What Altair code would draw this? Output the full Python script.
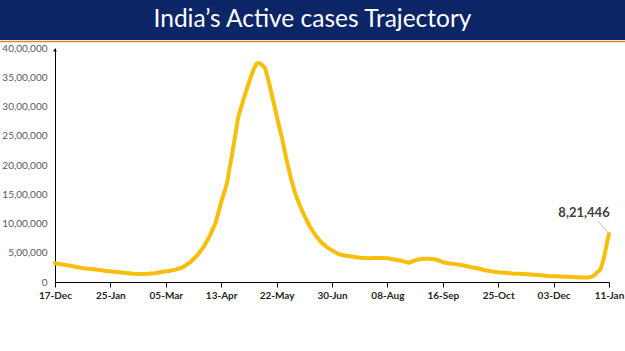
import altair as alt
import pandas as pd

# ---- data ----
dates = [
    "2020-12-17", "2020-12-22", "2020-12-27", "2021-01-01", "2021-01-06", "2021-01-11",
    "2021-01-16", "2021-01-21", "2021-01-26", "2021-01-31", "2021-02-05", "2021-02-10",
    "2021-02-15", "2021-02-20", "2021-02-25", "2021-03-02", "2021-03-07", "2021-03-12",
    "2021-03-17", "2021-03-22", "2021-03-27", "2021-04-01", "2021-04-05", "2021-04-09",
    "2021-04-13", "2021-04-17", "2021-04-21", "2021-04-25", "2021-04-29", "2021-05-03",
    "2021-05-06", "2021-05-08", "2021-05-10", "2021-05-12", "2021-05-14", "2021-05-17",
    "2021-05-20", "2021-05-23", "2021-05-26", "2021-05-29", "2021-06-01", "2021-06-04",
    "2021-06-07", "2021-06-10", "2021-06-14", "2021-06-18", "2021-06-22", "2021-06-26",
    "2021-06-30", "2021-07-05", "2021-07-10", "2021-07-15", "2021-07-20", "2021-07-25",
    "2021-07-30", "2021-08-04", "2021-08-08", "2021-08-13", "2021-08-18", "2021-08-23",
    "2021-08-28", "2021-09-02", "2021-09-06", "2021-09-11", "2021-09-16", "2021-09-21",
    "2021-09-26", "2021-10-01", "2021-10-06", "2021-10-11", "2021-10-16", "2021-10-21",
    "2021-10-25", "2021-10-30", "2021-11-04", "2021-11-09", "2021-11-14", "2021-11-19",
    "2021-11-24", "2021-11-29", "2021-12-03", "2021-12-08", "2021-12-13", "2021-12-18",
    "2021-12-23", "2021-12-27", "2021-12-30", "2022-01-01", "2022-01-03", "2022-01-05",
    "2022-01-07", "2022-01-09", "2022-01-10", "2022-01-11",
]
active = [
    322000, 300000, 281000, 257000, 235000, 221000,
    208000, 192000, 180000, 168000, 153000, 143000,
    137000, 141000, 151000, 170000, 188000, 212000,
    252000, 334000, 453000, 614000, 791000, 1010000,
    1364000, 1679000, 2231000, 2819000, 3145000, 3445000,
    3645000, 3736000, 3745000, 3704000, 3653000, 3373000,
    3061000, 2740000, 2440000, 2089000, 1782000, 1520000,
    1330000, 1162000, 966000, 811000, 689000, 601000,
    540000, 474000, 450000, 432000, 414000, 408000,
    411000, 412000, 406000, 385000, 362000, 327000,
    374000, 399000, 396000, 385000, 339000, 317000,
    301000, 282000, 252000, 230000, 200000, 180000,
    168000, 160000, 147000, 140000, 133000, 125000,
    114000, 104000, 99000, 94000, 88000, 83000,
    78000, 77000, 92000, 121000, 172000, 215000,
    372000, 591000, 723000, 821446,
]
x_ticks = [(2020, 12, 17), (2021, 1, 25), (2021, 3, 5), (2021, 4, 13), (2021, 5, 22),
           (2021, 6, 30), (2021, 8, 8), (2021, 9, 16), (2021, 10, 25), (2021, 12, 3),
           (2022, 1, 11)]
y_ticks = [0, 500000, 1000000, 1500000, 2000000, 2500000, 3000000, 3500000, 4000000]
title_text = "India’s Active cases Trajectory"
last_label = "8,21,446"

df = pd.DataFrame({"date": [d + "T00:00:00" for d in dates], "active": active})
last = df.tail(1).assign(label=last_label)
banner = pd.DataFrame({"t": [title_text]})

W, H = 554, 234
PL, PT, PR, PB = 55, 48, 16, 69

xdt = [alt.DateTime(year=y, month=m, date=d) for (y, m, d) in x_ticks]

x_enc = alt.X(
    "date:T",
    scale=alt.Scale(domain=[xdt[0], xdt[-1]], nice=False),
    axis=alt.Axis(
        values=xdt, format="%d-%b", title=None, grid=False,
        domainColor="#000000", tickColor="#000000", tickSize=5,
        labelFont="Lato", labelFontWeight="bold", labelFontSize=10,
        labelColor="#262626", labelPadding=3, labelFlush=False, labelOverlap=False,
    ),
)
y_enc = alt.Y(
    "active:Q",
    scale=alt.Scale(domain=[0, 4000000], nice=False),
    axis=alt.Axis(
        values=y_ticks, title=None, grid=False, ticks=False,
        domainColor="#000000", labelOverlap=False, labelFlush=False,
        labelExpr="datum.value == 0 ? '0' : format(datum.value / 100000, 'd') + ',00,000'",
        labelFont="Lato", labelFontSize=10, labelColor="#595959", labelPadding=8,
    ),
)

rect = alt.Chart(banner).mark_rect(color="#0B2567").encode(
    x=alt.value(-PL), x2=alt.value(W + PR), y=alt.value(-PT), y2=alt.value(-PT + 40)
)
orange = alt.Chart(banner).mark_rule(color="#D9823B", strokeWidth=1.5).encode(
    x=alt.value(-PL), x2=alt.value(W + PR), y=alt.value(-PT + 41.5)
)
title = alt.Chart(banner).mark_text(
    font="Lato", fontSize=24.5, color="#FFFFFF", align="center", baseline="middle"
).encode(text="t:N", x=alt.value((625 / 2) - PL), y=alt.value(-PT + 20))

line = alt.Chart(df).mark_line(color="#F8BE0C", strokeWidth=4, interpolate="linear",
                               strokeJoin="round", strokeCap="round").encode(
    x=x_enc, y=y_enc
)
leader = alt.Chart(last).mark_rule(
    color="#BFBFBF", strokeWidth=1, x2Offset=-11, y2Offset=-13
).encode(x=x_enc, y=y_enc, x2="date:T", y2="active:Q")
label = alt.Chart(last).mark_text(
    font="Lato", fontSize=13, fontWeight="bold", color="#404040", dx=-25, dy=-21
).encode(x=x_enc, y=y_enc, text="label:N")
arrow = alt.Chart(banner).mark_point(
    shape="triangle-up", filled=True, color="#000000", size=14, opacity=1
).encode(x=alt.value(0), y=alt.value(2))

chart = alt.layer(rect, orange, title, line, leader, label, arrow).properties(
    width=W, height=H,
    autosize=alt.AutoSizeParams(type="none"),
    padding={"left": PL, "top": PT, "right": PR, "bottom": PB},
    background="#FFFFFF",
).configure_view(stroke=None)

chart.save("out.html", embed_options={"renderer": "svg", "actions": False})
